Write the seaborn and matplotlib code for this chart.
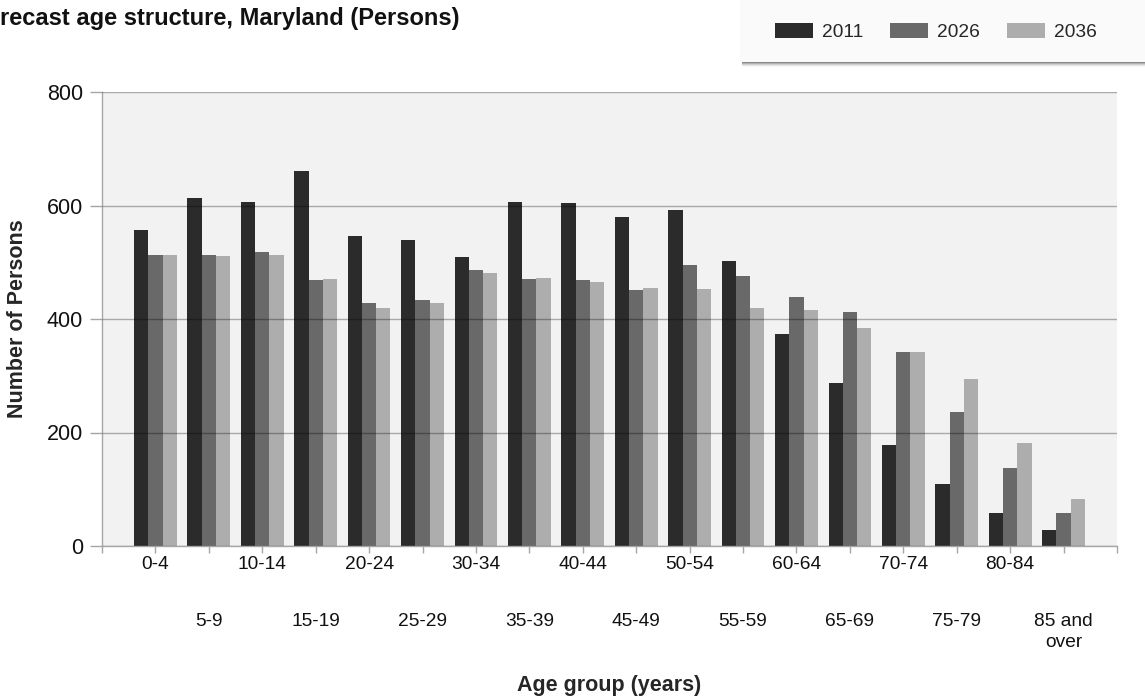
import matplotlib
matplotlib.use("Agg")
import matplotlib.pyplot as plt
from matplotlib.patches import Rectangle
import seaborn as sns
import pandas as pd

age_groups = ["0-4", "5-9", "10-14", "15-19", "20-24", "25-29", "30-34", "35-39",
              "40-44", "45-49", "50-54", "55-59", "60-64", "65-69", "70-74", "75-79",
              "80-84", "85 and\nover"]
years = ["2011", "2026", "2036"]
persons_2011 = [556, 613, 606, 660, 546, 539, 509, 606, 604, 579, 592, 503, 374, 287, 178, 110, 59, 28]
persons_2026 = [513, 513, 518, 468, 429, 434, 486, 471, 468, 451, 496, 476, 439, 413, 341, 237, 137, 59]
persons_2036 = [513, 511, 513, 471, 419, 429, 481, 473, 466, 454, 452, 419, 416, 384, 342, 294, 182, 83]
y_ticks = [0, 200, 400, 600, 800]
colors = ["#2b2b2b", "#696969", "#adadad"]

df = pd.DataFrame({
    "age": age_groups * 3,
    "year": [years[0]] * 18 + [years[1]] * 18 + [years[2]] * 18,
    "value": persons_2011 + persons_2026 + persons_2036,
})

sns.set_style("white")
plt.rcParams["font.family"] = ["Liberation Sans", "DejaVu Sans"]

W, H = 1145, 698
fig = plt.figure(figsize=(W / 100, H / 100), dpi=100)
ax = fig.add_axes([102 / W, 1 - 546 / H, (1117 - 102) / W, (546 - 92) / H])
ax.set_facecolor("#f2f2f2")

sns.barplot(data=df, x="age", y="value", hue="year", order=age_groups,
            hue_order=years, palette=colors, saturation=1, width=0.8,
            linewidth=0, ax=ax, legend=True)

ax.set_xlim(-1, 18)
ax.set_ylim(0, 800)
ax.set_yticks(y_ticks)
ax.set_yticklabels([str(v) for v in y_ticks], fontsize=15.5, color="#111111")

# x ticks: every category centre plus both plot edges
pos = [-1] + list(range(18)) + [18]
labs = [""] + age_groups + [""]
ax.set_xticks(pos)
ax.set_xticklabels(labs, fontsize=13.8, color="#111111", linespacing=1.25)

ax.grid(axis="y", color="black", alpha=0.3, linewidth=1)
ax.grid(axis="x", visible=False)
ax.set_axisbelow(False)

for s in ["top", "right"]:
    ax.spines[s].set_visible(False)
for s in ["left", "bottom"]:
    ax.spines[s].set_color("#a6a6a6")
    ax.spines[s].set_linewidth(1)

ax.tick_params(axis="y", direction="out", length=8.6, width=1, color="#a6a6a6", pad=5, left=True)
ax.tick_params(axis="x", direction="out", length=5, width=1, color="#a6a6a6", pad=2.5, bottom=True)

ticks = ax.xaxis.get_major_ticks()
for i, t in enumerate(ticks):
    ci = i - 1
    if 0 <= ci < 18 and ci % 2 == 1:
        t.set_pad(43.5)

ax.set_xlabel("Age group (years)", fontsize=15.5, fontweight="bold", labelpad=0)
ax.set_ylabel("Number of Persons", fontsize=15.5, fontweight="bold")
ax.xaxis.set_label_coords(0.5, -(685 - 546) / (546 - 92), transform=ax.transAxes)
ax.yaxis.set_label_coords((18 - 102) / (1117 - 102), 0.5, transform=ax.transAxes)
ax.xaxis.label.set_va("center")
ax.yaxis.label.set_va("center")

# title as visible in the reference
fig.text(0 / W, 1 - 19 / H, "recast age structure, Maryland (Persons)",
         fontsize=17, fontweight="bold", ha="left", va="center", color="#111111")

# legend panel with soft shadow
x0, x1, yb = 740, 1160, 62
for k, a in enumerate([0.22, 0.15, 0.10, 0.06, 0.03]):
    fig.patches.append(Rectangle(((x0 + 2) / W, 1 - (yb + 1 + k) / H), (x1 - x0) / W, (yb + 5) / H,
                                 transform=fig.transFigure, facecolor="black", alpha=a,
                                 edgecolor="none", zorder=0))
fig.patches.append(Rectangle((x0 / W, 1 - yb / H), (x1 - x0) / W, (yb + 5) / H,
                             transform=fig.transFigure, facecolor="#fafafa",
                             edgecolor="none", zorder=1))

handles, labels = ax.get_legend_handles_labels()
ax.get_legend().remove()
fsz = 13.8
px = fsz * 100 / 72
fig.legend(handles, labels, loc="center left", bbox_to_anchor=(775 / W, 1 - 32 / H),
           bbox_transform=fig.transFigure, ncol=3, frameon=False, fontsize=fsz,
           handlelength=38 / px, handleheight=15 / px, handletextpad=9 / px,
           columnspacing=27 / px, borderpad=0, borderaxespad=0)

fig.savefig("out.png", dpi=100)
